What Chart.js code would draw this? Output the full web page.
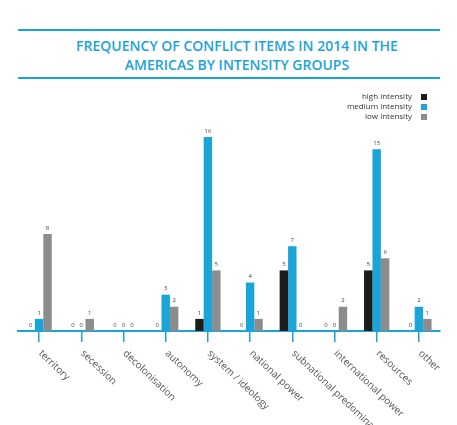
<!DOCTYPE html>
<html>
<head>
<meta charset="utf-8">
<script src="https://cdn.jsdelivr.net/npm/chart.js@4"></script>
<style>
  body { margin: 0; background: #fff; width: 457px; height: 425px; overflow: hidden; font-family: 'Open Sans', sans-serif; }
  .head {
    position: absolute; left: 18px; top: 29px; width: 422px; height: 46px;
    border-top: 2px solid #1ba4d8; border-bottom: 2px solid #1ba4d8;
    text-align: center; color: #1ba4d8; font-weight: 600; font-size: 14px;
    line-height: 19px;
  }
  .head div { padding-top: 5px; padding-left: 16px; }
  .legend { position: absolute; right: 30px; top: 91px; font-size: 8px; color: #333; text-align: right; }
  .legend div { height: 10px; line-height: 10px; white-space: nowrap; }
  .legend span { display: inline-block; width: 6px; height: 6px; margin-left: 9px; vertical-align: -0.5px; }
  .wrap { position: absolute; left: 0; top: 80px; width: 457px; height: 345px; }
</style>
</head>
<body>
<div class="head"><div>FREQUENCY OF CONFLICT ITEMS IN 2014 IN THE<br>AMERICAS BY INTENSITY GROUPS</div></div>
<div class="wrap"><canvas id="conflictChart"></canvas></div>
<div class="legend" id="legend"></div>
<script>
// Chart Data
const categories = ['territory', 'secession', 'decolonisation', 'autonomy', 'system / ideology',
  'national power', 'subnational predominance', 'international power', 'resources', 'other'];
const highIntensity = [0, 0, 0, 0, 1, 0, 5, 0, 5, 0];
const mediumIntensity = [1, 0, 0, 3, 16, 4, 7, 0, 15, 2];
const lowIntensity = [8, 1, 0, 2, 5, 1, 0, 2, 6, 1];

const cyan = '#1ba4d8';

// value labels above bars
const valueLabels = {
  id: 'valueLabels',
  afterDatasetsDraw(chart) {
    const ctx = chart.ctx;
    ctx.save();
    ctx.font = '6px "Open Sans"';
    ctx.fillStyle = '#444';
    ctx.textAlign = 'center';
    ctx.textBaseline = 'bottom';
    chart.data.datasets.forEach((ds, i) => {
      chart.getDatasetMeta(i).data.forEach((bar, j) => {
        ctx.fillText(ds.data[j], bar.x, bar.y - 3);
      });
    });
    ctx.restore();
  }
};

// rotated category labels (clockwise, starting at the tick)
const slantLabels = {
  id: 'slantLabels',
  afterDraw(chart) {
    const ctx = chart.ctx;
    const xs = chart.scales.x;
    const y = chart.chartArea.bottom + 21;
    ctx.save();
    ctx.font = '10px "Open Sans"';
    ctx.fillStyle = '#555';
    ctx.textAlign = 'left';
    ctx.textBaseline = 'middle';
    categories.forEach((c, i) => {
      ctx.save();
      ctx.translate(xs.getPixelForValue(i) + 1, y);
      ctx.rotate(0.76);
      ctx.fillText(c, 0, 0);
      ctx.restore();
    });
    ctx.restore();
  }
};

const chart = new Chart(document.getElementById('conflictChart'), {
  type: 'bar',
  data: {
    labels: categories,
    datasets: [
      { label: 'high intensity', data: highIntensity, backgroundColor: '#1c1c1c' },
      { label: 'medium intensity', data: mediumIntensity, backgroundColor: cyan },
      { label: 'low intensity', data: lowIntensity, backgroundColor: '#8c8c8c' }
    ]
  },
  options: {
    responsive: true,
    maintainAspectRatio: false,
    animation: false,
    datasets: { bar: { barPercentage: 1, categoryPercentage: 0.6 } },
    layout: { padding: { left: 18, right: 17, top: 45, bottom: 0 } },
    scales: {
      x: {
        grid: { display: true, drawOnChartArea: false, drawTicks: true, tickLength: 11, color: cyan, lineWidth: 1.5, offset: false },
        border: { color: cyan, width: 2 },
        ticks: { display: false },
        afterFit: (scale) => { scale.height = 94; }
      },
      y: { display: false, min: 0, max: 17 }
    },
    plugins: {
      tooltip: { enabled: false },
      legend: { display: false }
    }
  },
  plugins: [valueLabels, slantLabels]
});

// legend: text then swatch, one row per series
const legendEl = document.getElementById('legend');
chart.data.datasets.forEach(ds => {
  const row = document.createElement('div');
  row.textContent = ds.label;
  const sw = document.createElement('span');
  sw.style.background = ds.backgroundColor;
  row.appendChild(sw);
  legendEl.appendChild(row);
});
</script>
</body>
</html>
